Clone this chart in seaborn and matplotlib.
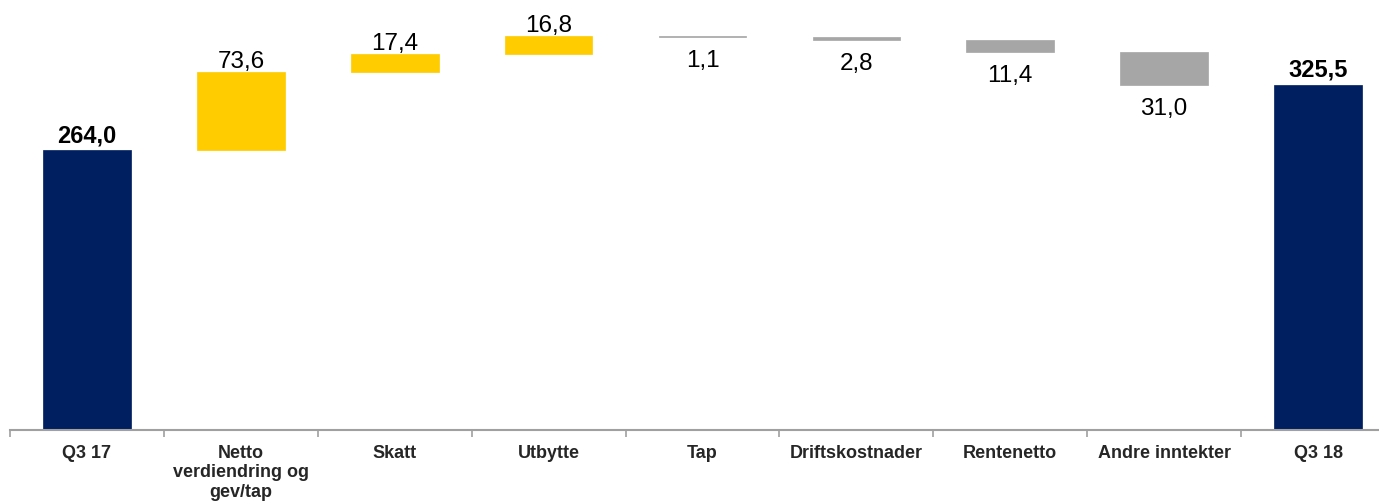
import matplotlib
matplotlib.use("Agg")
import matplotlib.pyplot as plt
import seaborn as sns
import numpy as np
import pandas as pd

categories = ["Q3 17", "Netto\nverdiendring og\ngev/tap", "Skatt", "Utbytte", "Tap",
              "Driftskostnader", "Rentenetto", "Andre inntekter", "Q3 18"]
changes = [264.0, 73.6, 17.4, 16.8, -1.1, -2.8, -11.4, -31.0, 325.5]
kinds = ["total", "pos", "pos", "pos", "neg", "neg", "neg", "neg", "total"]
labels = ["264,0", "73,6", "17,4", "16,8", "1,1", "2,8", "11,4", "31,0", "325,5"]

colors = {"total": "#001F60", "pos": "#FFCC00", "neg": "#A6A6A6"}

# waterfall geometry from the values
bottoms, heights, tops = [], [], []
running = 0.0
for v, k in zip(changes, kinds):
    if k == "total":
        b, h = 0.0, v
        running = v
    else:
        b = running if v > 0 else running + v
        h = abs(v)
        running += v
    bottoms.append(b)
    heights.append(h)
    tops.append(b + h)

df = pd.DataFrame({"cat": categories, "height": heights, "bottom": bottoms, "kind": kinds})

sns.set_theme(style="white")
plt.rcParams["font.family"] = ["Liberation Sans", "DejaVu Sans"]

W, H = 1379, 503
fig = plt.figure(figsize=(W / 100, H / 100), dpi=100)
ax = fig.add_axes([10 / W, (H - 430) / H, 1385 / W, 430 / H])

pal = [colors[k] for k in kinds]
sns.barplot(data=df, x="cat", y="height", hue="cat",
            palette=pal, order=categories,
            width=0.57, legend=False, ax=ax, saturation=1)

# shift bars to their waterfall bottoms
for p, b, c in zip(ax.patches, bottoms, pal):
    p.set_y(b)
    p.set_edgecolor(c)
    p.set_linewidth(0.5)

ax.set_xlim(-0.5, 8.5)
ax.set_ylim(0, 405.6)

px = 72 / 100  # points per pixel
for i, (k, lab) in enumerate(zip(kinds, labels)):
    if k == "total":
        ax.annotate(lab, (i, tops[i]), xytext=(0, 8 * px), textcoords="offset points",
                    ha="center", va="baseline", fontsize=17, fontweight="bold", color="black")
    elif k == "pos":
        ax.annotate(lab, (i, tops[i]), xytext=(0, 4 * px), textcoords="offset points",
                    ha="center", va="baseline", fontsize=17.5, color="black")
    else:
        ax.annotate(lab, (i, bottoms[i]), xytext=(0, -30 * px), textcoords="offset points",
                    ha="center", va="baseline", fontsize=17.5, color="black")

for s in ["top", "right", "left"]:
    ax.spines[s].set_visible(False)
ax.spines["bottom"].set_color("#A0A0A0")
ax.spines["bottom"].set_linewidth(1.5)
ax.set_yticks([])
ax.set_xlabel("")
ax.set_ylabel("")
ax.set_xticks(range(len(categories)))
ax.set_xticklabels(categories, fontsize=13, fontweight="bold", linespacing=1.22)
ax.tick_params(axis="x", which="major", length=0, pad=10.5, bottom=True)
ax.set_xticks(np.arange(-0.5, len(categories), 1.0), minor=True)
ax.tick_params(axis="x", which="minor", length=5, width=1.2, color="#A0A0A0",
               direction="out", bottom=True)

fig.savefig("out.png", dpi=100)
